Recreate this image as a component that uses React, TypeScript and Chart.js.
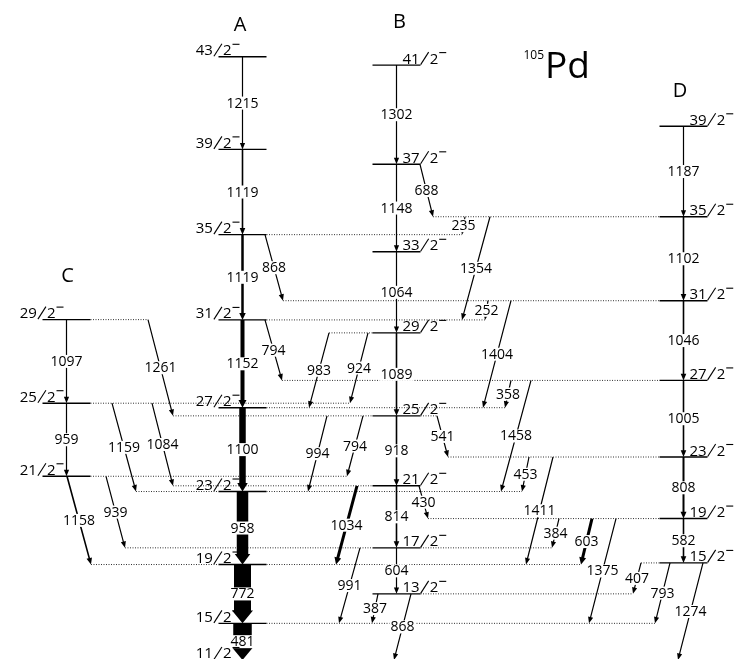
import React, { useEffect, useRef } from 'react';
import { Chart, registerables } from 'chart.js';

Chart.register(...registerables);

// ---------------- DATA ----------------
// Level energies (keV, relative to the 11/2- level); spins given as 2J
const bandNames = ['A', 'B', 'C', 'D'];
const spinsA = [11, 15, 19, 23, 27, 31, 35, 39, 43];
const energiesA = [0, 481, 1253, 2211, 3311, 4463, 5582, 6701, 7916];
const spinsB = [13, 17, 21, 25, 29, 33, 37, 41];
const energiesB = [868, 1472, 2286, 3204, 4293, 5357, 6505, 7807];
const spinsC = [21, 25, 29];
const energiesC = [2411, 3370, 4467];
const spinsD = [15, 19, 23, 27, 31, 35, 39];
const energiesD = [1274, 1856, 2664, 3669, 4715, 5817, 7004];

// Gamma transitions (initial level, final level, energy label, relative intensity)
const gammaFrom = [
  'A43', 'A39', 'A35', 'A31', 'A27', 'A23', 'A19', 'A15',
  'B41', 'B37', 'B33', 'B29', 'B25', 'B21', 'B17',
  'C29', 'C25',
  'D39', 'D35', 'D31', 'D27', 'D23', 'D19',
  'A35', 'A31', 'B37', 'D35', 'D35', 'D31', 'D31', 'D27', 'D27', 'B29', 'B29', 'C29',
  'B25', 'B25', 'B25', 'D23', 'D23', 'C25', 'C25', 'B21', 'B21', 'C21', 'C21',
  'D19', 'D19', 'D19', 'B17', 'D15', 'D15', 'D15', 'B13', 'B13',
];
const gammaTo = [
  'A39', 'A35', 'A31', 'A27', 'A23', 'A19', 'A15', 'A11',
  'B37', 'B33', 'B29', 'B25', 'B21', 'B17', 'B13',
  'C25', 'C21',
  'D35', 'D31', 'D27', 'D23', 'D19', 'D15',
  'D31', 'D27', 'D35', 'A35', 'A31', 'A31', 'A27', 'A27', 'A23', 'A27', 'C25', 'B25',
  'D23', 'A23', 'C21', 'A23', 'A19', 'A23', 'B21', 'D19', 'A19', 'A19', 'B17',
  'B17', 'A19', 'A15', 'A15', 'B13', 'A15', 'A11', 'A15', 'A11',
];
const gammaEnergy = [
  1215, 1119, 1119, 1152, 1100, 958, 772, 481,
  1302, 1148, 1064, 1089, 918, 814, 604,
  1097, 959,
  1187, 1102, 1046, 1005, 808, 582,
  868, 794, 688, 235, 1354, 252, 1404, 358, 1458, 983, 924, 1261,
  541, 994, 794, 453, 1411, 1159, 1084, 430, 1034, 1158, 939,
  384, 603, 1375, 991, 407, 793, 1274, 387, 868,
];
const gammaIntensity = [
  1.2, 1.6, 2.5, 4, 6.5, 11.5, 17, 18.5,
  1.2, 1.2, 1.2, 1.6, 1.6, 1.6, 1.2,
  1.2, 1.2,
  1.2, 1.6, 1.6, 1.6, 2, 1.6,
  1.2, 1.2, 1.2, 1.2, 1.2, 1.2, 1.2, 1.2, 1.2, 1.2, 1.2, 1.2,
  1.2, 1.2, 1.2, 1.2, 1.2, 1.2, 1.2, 1.2, 3, 1.6, 1.2,
  1.2, 3, 1.2, 1.2, 1.2, 1.2, 1.2, 1.2, 1.2,
];

// ---------------- LAYOUT (x positions in x-scale units) ----------------
const bandX: Record<string, number> = { A: 242.5, B: 396.5, C: 66.5, D: 683.5 };
const levelHalf = 24;
// x of start / end of each transition (null = on the band's own vertical line)
const gammaStartX: (number | null)[] = [
  null, null, null, null, null, null, null, null,
  null, null, null, null, null, null, null,
  null, null,
  null, null, null, null, null, null,
  265, 265, 420, 465, 490, 488, 511, 511, 531, 329, 368, 148,
  437, 327, 363, 529, 553, 112, 152, 419, 357, 67, 106,
  559, 592, 616, 360, 641, 670, 703, 378, 411,
];
const gammaEndX: (number | null)[] = [
  null, null, null, null, null, null, null, null,
  null, null, null, null, null, null, null,
  null, null,
  null, null, null, null, null, null,
  283, 282, 433, 462, 462, 485, 483, 505, 501, 309, 350, 173,
  448, 308, 347, 522, 526, 136, 173, 428, 336, 91, 125,
  552, 581, 589, 339, 633, 655, 678, 372, 394,
];
// band title: [dx from band line, px above top level]
const bandTitleOffset: Record<string, [number, number]> = {
  A: [-2.5, 26], B: [3, 37], C: [1, 38], D: [-3.5, 29],
};

const FONT = '"Open Sans", "DejaVu Sans", sans-serif';
const Y_MIN = 13.1;
const Y_MAX = 8661.4;

type Level = { id: string; band: string; spin: number; energy: number };

function buildLevels(): Level[] {
  const out: Level[] = [];
  const spins = [spinsA, spinsB, spinsC, spinsD];
  const ens = [energiesA, energiesB, energiesC, energiesD];
  bandNames.forEach((b, bi) => {
    spins[bi].forEach((s, i) => out.push({ id: b + s, band: b, spin: s, energy: ens[bi][i] }));
  });
  return out;
}

function extensionOf(lv: Level): [number, number] {
  const left = bandX[lv.band] - levelHalf;
  const right = bandX[lv.band] + levelHalf;
  let lo = left;
  let hi = right;
  gammaFrom.forEach((f, i) => {
    if (gammaStartX[i] == null) return;
    if (f === lv.id) { lo = Math.min(lo, gammaStartX[i]!); hi = Math.max(hi, gammaStartX[i]!); }
    if (gammaTo[i] === lv.id) { lo = Math.min(lo, gammaEndX[i]!); hi = Math.max(hi, gammaEndX[i]!); }
  });
  return [lo, hi];
}

function drawArrow(ctx: CanvasRenderingContext2D, x1: number, y1: number, x2: number, y2: number, w: number) {
  const dx = x2 - x1, dy = y2 - y1;
  const len = Math.hypot(dx, dy);
  const ux = dx / len, uy = dy / len;
  const nx = -uy, ny = ux;
  const hl = Math.min(len * 0.5, 6 + w * 0.4);
  const hw = (w + 4) / 2;
  const bx = x2 - ux * hl, by = y2 - uy * hl;
  const h = w / 2;
  ctx.beginPath();
  ctx.moveTo(x1 + nx * h, y1 + ny * h);
  ctx.lineTo(bx + nx * h, by + ny * h);
  ctx.lineTo(bx + nx * hw, by + ny * hw);
  ctx.lineTo(x2, y2);
  ctx.lineTo(bx - nx * hw, by - ny * hw);
  ctx.lineTo(bx - nx * h, by - ny * h);
  ctx.lineTo(x1 - nx * h, y1 - ny * h);
  ctx.closePath();
  ctx.fill();
}

function drawLevelLabel(ctx: CanvasRenderingContext2D, lv: Level, lineY: number, px: (v: number) => number) {
  ctx.font = `15px ${FONT}`;
  ctx.textBaseline = 'alphabetic';
  ctx.textAlign = 'left';
  const num = String(lv.spin);
  const numW = ctx.measureText(num).width;
  const denW = ctx.measureText('2').width;
  const slashW = 8, minusW = 7;
  const total = numW + 1 + slashW + 1 + denW + 1 + minusW;
  const bx = px(bandX[lv.band]);
  const leftSide = lv.band === 'A' || lv.band === 'C';
  const x0 = leftSide ? bx - 3 - total : bx + 6;
  const base = lineY - 1.5;
  ctx.fillText(num, x0, base);
  const sx = x0 + numW + 1;
  ctx.lineWidth = 1.1;
  ctx.beginPath();
  ctx.moveTo(sx, lineY - 0.5);
  ctx.lineTo(sx + slashW, lineY - 13);
  ctx.stroke();
  const dx = sx + slashW + 1;
  ctx.fillText('2', dx, base);
  const mx = dx + denW + 1;
  ctx.lineWidth = 1.1;
  ctx.beginPath();
  ctx.moveTo(mx, lineY - 12.5);
  ctx.lineTo(mx + minusW, lineY - 12.5);
  ctx.stroke();
}

export default function App() {
  const ref = useRef<HTMLCanvasElement>(null);

  useEffect(() => {
    const canvas = ref.current;
    if (!canvas) return;
    const levels = buildLevels();
    const levelMap: Record<string, Level> = {};
    levels.forEach((l) => { levelMap[l.id] = l; });

    const datasets: any[] = [];
    levels.forEach((lv) => {
      const left = bandX[lv.band] - levelHalf;
      const right = bandX[lv.band] + levelHalf;
      const [lo, hi] = extensionOf(lv);
      if (lo < left) {
        datasets.push({
          data: [{ x: lo, y: lv.energy }, { x: left, y: lv.energy }],
          showLine: true, pointRadius: 0, pointHoverRadius: 0,
          borderColor: '#333', borderWidth: 1, borderDash: [1, 1.5],
        });
      }
      if (hi > right) {
        datasets.push({
          data: [{ x: right, y: lv.energy }, { x: hi, y: lv.energy }],
          showLine: true, pointRadius: 0, pointHoverRadius: 0,
          borderColor: '#333', borderWidth: 1, borderDash: [1, 1.5],
        });
      }
      datasets.push({
        data: [{ x: left, y: lv.energy }, { x: right, y: lv.energy }],
        showLine: true, pointRadius: 0, pointHoverRadius: 0,
        borderColor: '#000', borderWidth: 1.4,
      });
    });

    const schemePlugin = {
      id: 'levelScheme',
      beforeDraw(chart: any) {
        const c = chart.ctx as CanvasRenderingContext2D;
        c.save();
        c.fillStyle = '#fff';
        c.fillRect(0, 0, chart.width, chart.height);
        c.restore();
      },
      afterDatasetsDraw(chart: any) {
        const ctx = chart.ctx as CanvasRenderingContext2D;
        const xs = chart.scales.x;
        const ys = chart.scales.y;
        const px = (v: number) => xs.getPixelForValue(v);
        const py = (v: number) => ys.getPixelForValue(v);
        ctx.save();
        ctx.fillStyle = '#000';
        ctx.strokeStyle = '#000';

        // transitions
        const mids: [number, number][] = [];
        gammaFrom.forEach((f, i) => {
          const a = levelMap[f];
          const b = levelMap[gammaTo[i]];
          const x1 = px(gammaStartX[i] ?? bandX[a.band]);
          const x2 = px(gammaEndX[i] ?? bandX[b.band]);
          const y1 = py(a.energy);
          const y2 = py(b.energy);
          drawArrow(ctx, x1, y1, x2, y2, gammaIntensity[i]);
          mids.push([(x1 + x2) / 2, (y1 + y2) / 2]);
        });

        // transition energy labels
        ctx.font = `14px ${FONT}`;
        ctx.textAlign = 'center';
        ctx.textBaseline = 'middle';
        gammaEnergy.forEach((e, i) => {
          const t = String(e);
          const w = ctx.measureText(t).width;
          const [mx, my] = mids[i];
          ctx.fillStyle = '#fff';
          ctx.fillRect(mx - w / 2 - 1, my - 6.5, w + 2, 13);
          ctx.fillStyle = '#000';
          ctx.fillText(t, mx, my + 0.5);
        });

        // level labels
        levels.forEach((lv) => drawLevelLabel(ctx, lv, py(lv.energy), px));

        // band names
        ctx.font = `20px ${FONT}`;
        ctx.textAlign = 'center';
        ctx.textBaseline = 'alphabetic';
        bandNames.forEach((b) => {
          const top = levels.filter((l) => l.band === b).reduce((m, l) => Math.max(m, l.energy), -1);
          const [dx, up] = bandTitleOffset[b];
          ctx.fillText(b, px(bandX[b] + dx), py(top) - up);
        });

        // nucleus title
        ctx.textAlign = 'left';
        ctx.font = `37px ${FONT}`;
        ctx.fillText('Pd', 545, 78);
        ctx.textAlign = 'right';
        ctx.font = `12px ${FONT}`;
        ctx.fillText('105', 544, 59);
        ctx.restore();
      },
    };

    const chart = new Chart(canvas, {
      type: 'scatter',
      data: { datasets },
      options: {
        animation: false,
        responsive: false,
        maintainAspectRatio: false,
        events: [],
        layout: { padding: 0 },
        plugins: { legend: { display: false }, tooltip: { enabled: false } },
        scales: {
          x: { type: 'linear', display: false, min: 0, max: 737 },
          y: { type: 'linear', display: false, min: Y_MIN, max: Y_MAX },
        },
      },
      plugins: [schemePlugin],
    });
    return () => chart.destroy();
  }, []);

  return (
    <div style={{ position: 'absolute', left: 0, top: 0, width: 737, height: 659, background: '#fff' }}>
      <canvas ref={ref} width={737} height={659} style={{ display: 'block' }} />
    </div>
  );
}
